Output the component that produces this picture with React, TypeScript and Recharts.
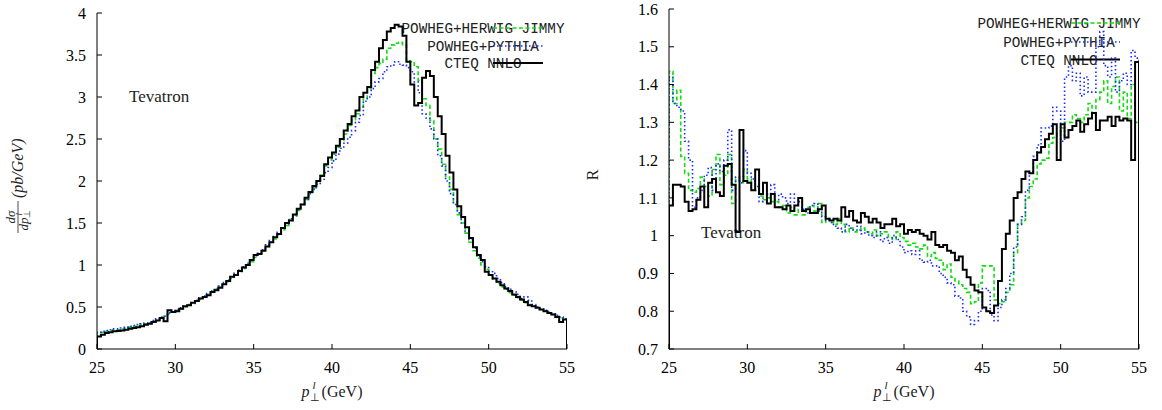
import { Customized, Line, LineChart, XAxis, YAxis } from "recharts";

// Histograms: 0.25 GeV bins from 25 to 55 GeV (120 bins).
const BIN_START = 25;
const BIN_WIDTH = 0.25;

const PT_TICKS = [25, 30, 35, 40, 45, 50, 55];
const XSEC_TICKS = [0, 0.5, 1, 1.5, 2, 2.5, 3, 3.5, 4];
const RATIO_TICKS = [0.7, 0.8, 0.9, 1, 1.1, 1.2, 1.3, 1.4, 1.5, 1.6];

const LEGEND_LABELS = ["POWHEG+HERWIG JIMMY", "POWHEG+PYTHIA", "CTEQ NNLO"];

// dsigma/dpT (pb/GeV)
const xsecCteq = [
  0.15, 0.17, 0.19, 0.2, 0.21, 0.215, 0.22, 0.23, 0.24, 0.25,
  0.26, 0.27, 0.29, 0.3, 0.32, 0.34, 0.37, 0.33, 0.46, 0.44,
  0.45, 0.48, 0.51, 0.52, 0.55, 0.57, 0.6, 0.62, 0.64, 0.68,
  0.7, 0.73, 0.77, 0.81, 0.86, 0.88, 0.93, 0.97, 1.0, 1.06,
  1.12, 1.13, 1.17, 1.22, 1.27, 1.33, 1.37, 1.44, 1.5, 1.53,
  1.6, 1.67, 1.72, 1.8, 1.87, 1.94, 2.0, 2.06, 2.2, 2.28,
  2.34, 2.42, 2.5, 2.6, 2.68, 2.77, 2.84, 3.0, 3.05, 3.12,
  3.32, 3.42, 3.58, 3.68, 3.78, 3.82, 3.86, 3.84, 3.73, 3.42,
  3.15, 2.9, 2.93, 3.23, 3.31, 3.25, 3.0, 2.77, 2.56, 2.3,
  2.1, 1.9, 1.7, 1.57, 1.45, 1.32, 1.21, 1.12, 1.06, 0.92,
  0.88, 0.84, 0.8, 0.76, 0.72, 0.69, 0.65, 0.62, 0.59, 0.56,
  0.52, 0.51, 0.49, 0.47, 0.45, 0.43, 0.41, 0.38, 0.32, 0.35,
];
const xsecHerwig = [
  0.19, 0.2, 0.21, 0.22, 0.23, 0.23, 0.24, 0.25, 0.26, 0.27,
  0.28, 0.29, 0.3, 0.31, 0.33, 0.35, 0.37, 0.39, 0.42, 0.44,
  0.46, 0.48, 0.5, 0.52, 0.54, 0.57, 0.59, 0.62, 0.65, 0.68,
  0.71, 0.74, 0.77, 0.8, 0.84, 0.88, 0.92, 0.96, 1.0, 1.04,
  1.09, 1.13, 1.17, 1.22, 1.27, 1.31, 1.36, 1.42, 1.47, 1.54,
  1.58, 1.65, 1.72, 1.78, 1.86, 1.92, 1.98, 2.07, 2.18, 2.25,
  2.32, 2.4, 2.48, 2.56, 2.66, 2.73, 2.8, 2.88, 2.98, 3.1,
  3.28, 3.35, 3.4, 3.45, 3.58, 3.62, 3.64, 3.65, 3.62, 3.43,
  3.42, 3.36, 3.2, 2.98, 2.9, 2.72, 2.5, 2.38, 2.2, 2.05,
  1.9, 1.75, 1.6, 1.5, 1.38, 1.27, 1.17, 1.08, 1.0, 0.95,
  0.88, 0.83, 0.78, 0.74, 0.71, 0.67, 0.64, 0.61, 0.58, 0.55,
  0.53, 0.51, 0.49, 0.47, 0.45, 0.43, 0.41, 0.39, 0.37, 0.35,
];
const xsecPythia = [
  0.2, 0.21, 0.22, 0.23, 0.24, 0.24, 0.25, 0.26, 0.27, 0.28,
  0.29, 0.3, 0.31, 0.32, 0.34, 0.36, 0.38, 0.39, 0.43, 0.46,
  0.47, 0.49, 0.51, 0.53, 0.55, 0.58, 0.61, 0.63, 0.66, 0.69,
  0.72, 0.75, 0.79, 0.82, 0.86, 0.9, 0.94, 0.98, 1.02, 1.06,
  1.11, 1.14, 1.18, 1.24, 1.29, 1.34, 1.39, 1.44, 1.49, 1.55,
  1.6, 1.66, 1.72, 1.78, 1.85, 1.9, 1.96, 2.02, 2.1, 2.16,
  2.24, 2.32, 2.39, 2.45, 2.52, 2.6, 2.7, 2.78, 2.95, 3.0,
  3.1, 3.18, 3.22, 3.3, 3.36, 3.38, 3.42, 3.39, 3.38, 3.35,
  3.3, 3.18, 3.05, 2.8, 2.75, 2.62, 2.5, 2.3, 2.18, 2.0,
  1.85, 1.72, 1.62, 1.5, 1.4, 1.3, 1.2, 1.1, 1.04, 0.98,
  0.92, 0.9, 0.84, 0.79, 0.74, 0.71, 0.68, 0.65, 0.6, 0.62,
  0.58, 0.53, 0.5, 0.48, 0.46, 0.44, 0.42, 0.4, 0.38, 0.36,
];

// ratio R
const ratioCteq = [
  1.08, 1.135, 1.135, 1.13, 1.09, 1.065, 1.07, 1.095, 1.13, 1.075,
  1.14, 1.15, 1.115, 1.105, 1.185, 1.19, 1.135, 1.01, 1.28, 1.145,
  1.14, 1.12, 1.175, 1.11, 1.14, 1.085, 1.11, 1.075, 1.075, 1.07,
  1.08, 1.065, 1.08, 1.1, 1.065, 1.07, 1.06, 1.06, 1.07, 1.08,
  1.045, 1.04, 1.045, 1.04, 1.075, 1.05, 1.065, 1.04, 1.035, 1.06,
  1.05, 1.035, 1.045, 1.035, 1.02, 1.03, 1.03, 1.045, 1.025, 1.03,
  1.005, 1.015, 1.01, 1.015, 1.005, 1.0, 0.99, 1.01, 0.975, 0.97,
  0.975, 0.96, 0.955, 0.935, 0.945, 0.91, 0.89, 0.87, 0.855, 0.85,
  0.81, 0.8, 0.795, 0.815, 0.88, 0.965, 1.005, 1.04, 1.1, 1.115,
  1.15, 1.17, 1.165, 1.2, 1.22, 1.235, 1.255, 1.27, 1.295, 1.2,
  1.295, 1.26, 1.28, 1.29, 1.305, 1.275, 1.295, 1.31, 1.325, 1.28,
  1.305, 1.305, 1.315, 1.29, 1.315, 1.305, 1.31, 1.305, 1.2, 1.46,
];
const ratioHerwig = [
  1.435, 1.35, 1.385, 1.21, 1.165, 1.12, 1.115, 1.125, 1.155, 1.13,
  1.105, 1.175, 1.215, 1.135, 1.16, 1.215, 1.085, 1.15, 1.14, 1.175,
  1.15, 1.125, 1.12, 1.105, 1.095, 1.1, 1.09, 1.09, 1.075, 1.08,
  1.06, 1.075, 1.055, 1.07, 1.055, 1.075, 1.08, 1.065, 1.085, 1.035,
  1.045, 1.035, 1.03, 1.045, 1.03, 1.01, 1.02, 1.01, 1.015, 1.02,
  1.01, 1.005, 1.015, 1.0, 1.005, 1.01, 0.995, 0.99, 1.01, 0.995,
  0.985, 0.975, 0.98, 0.97, 0.965, 0.975, 0.945, 0.955, 0.94, 0.935,
  0.91, 0.925, 0.89, 0.88, 0.87, 0.86, 0.85, 0.82, 0.825, 0.875,
  0.92, 0.92, 0.92, 0.83, 0.82, 0.825, 0.85, 0.87, 0.955, 1.03,
  1.04, 1.1, 1.13, 1.15, 1.19, 1.2, 1.205, 1.245, 1.26, 1.27,
  1.285, 1.3, 1.3, 1.32, 1.31, 1.3, 1.32, 1.35, 1.32, 1.36,
  1.38, 1.41, 1.35, 1.395, 1.42, 1.33, 1.38, 1.31, 1.4, 1.3,
];
const ratioPythia = [
  1.42, 1.35, 1.34, 1.33, 1.25, 1.2, 1.075, 1.1, 1.12, 1.16,
  1.18, 1.12, 1.19, 1.17, 1.2, 1.28, 1.12, 1.155, 1.14, 1.225,
  1.165, 1.15, 1.13, 1.09, 1.12, 1.11, 1.135, 1.095, 1.11, 1.1,
  1.085, 1.11, 1.08, 1.09, 1.07, 1.06, 1.08, 1.085, 1.065, 1.05,
  1.04, 1.035, 1.025, 1.02, 1.01, 1.03, 1.02, 1.015, 1.025, 1.005,
  1.01, 1.0, 0.995, 1.01, 0.985, 0.995, 0.98, 1.0, 0.99, 0.97,
  0.955, 0.96, 0.95, 0.96, 0.935, 0.93, 0.935, 0.92, 0.92, 0.9,
  0.89, 0.875, 0.87, 0.84, 0.835, 0.8, 0.785, 0.765, 0.775, 0.8,
  0.86, 0.855, 0.79, 0.775, 0.81, 0.83, 0.86, 0.9, 0.97, 1.03,
  1.05, 1.12, 1.17, 1.21, 1.24, 1.285, 1.285, 1.29, 1.34, 1.33,
  1.25, 1.42, 1.45, 1.41, 1.43, 1.37, 1.42, 1.38, 1.38, 1.5,
  1.54, 1.45, 1.42, 1.47, 1.38, 1.41, 1.43, 1.4, 1.49, 1.47,
];

const CTEQ_COLOR = "#000000";
const HERWIG_COLOR = "#11dd11";
const PYTHIA_COLOR = "#1a2cff";

const SERIF = "'Liberation Serif', 'Times New Roman', serif";
const MONO = "'Liberation Mono', 'DejaVu Sans Mono', monospace";

// histogram outline: rise from zero at the first edge, step per bin, drop back at the last edge
function buildRows(cteq: number[], herwig: number[], pythia: number[]) {
  const rows = [{ x: BIN_START, cteq: 0, herwig: 0, pythia: 0 }];
  cteq.forEach((v, i) => {
    rows.push({ x: BIN_START + i * BIN_WIDTH, cteq: v, herwig: herwig[i], pythia: pythia[i] });
  });
  const last = cteq.length - 1;
  const end = BIN_START + cteq.length * BIN_WIDTH;
  rows.push({ x: end, cteq: cteq[last], herwig: herwig[last], pythia: pythia[last] });
  rows.push({ x: end, cteq: 0, herwig: 0, pythia: 0 });
  return rows;
}

const xsecRows = buildRows(xsecCteq, xsecHerwig, xsecPythia);
const ratioRows = buildRows(ratioCteq, ratioHerwig, ratioPythia);

const tickStyle = { fontSize: 16, fill: "#000", fontFamily: SERIF };
const blank = () => "";

type Overlay = {
  legendX: number;
  legendBaselines: number[];
  sampleX: [number, number];
  tevatron: [number, number];
  xLabelX: number;
  yLabel: React.ReactNode;
};

function Legend({ o }: { o: Overlay }) {
  const colors = [HERWIG_COLOR, PYTHIA_COLOR, CTEQ_COLOR];
  const dashes = ["4 2.5", "1.5 2.5", undefined];
  const widths = [1.6, 1.6, 2];
  return (
    <g>
      {LEGEND_LABELS.map((label, i) => (
        <g key={label}>
          <text x={o.legendX} y={o.legendBaselines[i]} textAnchor="middle" fontFamily={MONO} fontSize={14.3} fill="#222">
            {label}
          </text>
          <line
            x1={o.sampleX[0]}
            x2={o.sampleX[1]}
            y1={o.legendBaselines[i] - 5}
            y2={o.legendBaselines[i] - 5}
            stroke={colors[i]}
            strokeWidth={widths[i]}
            strokeDasharray={dashes[i]}
          />
        </g>
      ))}
    </g>
  );
}

function Decorations({ o }: { o: Overlay }) {
  return (
    <g>
      <Legend o={o} />
      <text x={o.tevatron[0]} y={o.tevatron[1]} fontFamily={SERIF} fontSize={17} fill="#222">
        Tevatron
      </text>
      <text x={o.xLabelX} y={397} textAnchor="middle" fontFamily={SERIF} fontSize={16} fill="#222">
        <tspan fontStyle="italic">p</tspan>
        <tspan fontSize={11} dy={4}>⊥</tspan>
        <tspan fontSize={11} fontStyle="italic" dx={-7} dy={-12}>l</tspan>
        <tspan dx={6} dy={8}>(GeV)</tspan>
      </text>
      {o.yLabel}
    </g>
  );
}

const xsecYLabel = (
  <g transform="translate(18,183) rotate(-90)" fontFamily={SERIF} fill="#222">
    <text x={-34} y={-3} textAnchor="middle" fontSize={13} fontStyle="italic">dσ</text>
    <line x1={-50} x2={-18} y1={0} y2={0} stroke="#222" strokeWidth={0.8} />
    <text x={-37} y={10} textAnchor="middle" fontSize={13} fontStyle="italic">
      dp
      <tspan fontSize={9} fontStyle="normal" dy={2}>⊥</tspan>
      <tspan fontSize={9} dx={-6} dy={-8}>l</tspan>
    </text>
    <text x={-15} y={5} fontSize={16} fontStyle="italic">(pb/GeV)</text>
  </g>
);

const ratioYLabel = (
  <text transform="translate(17,175) rotate(-90)" textAnchor="middle" fontFamily={SERIF} fontSize={16} fill="#222">
    R
  </text>
);

const frame = { stroke: "#000" };

function Panel({
  rows,
  yDomain,
  yTicks,
  margin,
  overlay,
}: {
  rows: ReturnType<typeof buildRows>;
  yDomain: [number, number];
  yTicks: number[];
  margin: { top: number; right: number; bottom: number; left: number };
  overlay: Overlay;
}) {
  return (
    <LineChart width={581} height={410} data={rows} margin={margin}>
      {/* bottom / left: negative tick size turns the tick marks inward */}
      <XAxis
        dataKey="x"
        type="number"
        domain={[25, 55]}
        ticks={PT_TICKS}
        interval={0}
        height={40}
        tick={tickStyle}
        tickSize={-5}
        tickMargin={18}
        axisLine={frame}
        tickLine={frame}
        allowDataOverflow
      />
      <YAxis
        type="number"
        domain={yDomain}
        ticks={yTicks}
        interval={0}
        width={60}
        tick={tickStyle}
        tickSize={-5}
        tickMargin={16}
        axisLine={frame}
        tickLine={frame}
        allowDataOverflow
      />
      {/* top / right mirror axes close the frame, ticks pointing inward */}
      <XAxis
        xAxisId="top"
        orientation="top"
        mirror
        dataKey="x"
        type="number"
        domain={[25, 55]}
        ticks={PT_TICKS}
        interval={0}
        height={0}
        tickFormatter={blank}
        tickSize={5}
        axisLine={frame}
        tickLine={frame}
      />
      <YAxis
        yAxisId="right"
        orientation="right"
        mirror
        type="number"
        domain={yDomain}
        ticks={yTicks}
        interval={0}
        width={0}
        tickFormatter={blank}
        tickSize={5}
        axisLine={frame}
        tickLine={frame}
      />
      <Line
        type="stepAfter"
        dataKey="herwig"
        stroke={HERWIG_COLOR}
        strokeWidth={1.6}
        strokeDasharray="4 2.5"
        dot={false}
        isAnimationActive={false}
      />
      <Line
        type="stepAfter"
        dataKey="pythia"
        stroke={PYTHIA_COLOR}
        strokeWidth={1.6}
        strokeDasharray="1.5 2.5"
        dot={false}
        isAnimationActive={false}
      />
      <Line
        type="stepAfter"
        dataKey="cteq"
        stroke={CTEQ_COLOR}
        strokeWidth={2}
        dot={false}
        isAnimationActive={false}
      />
      <Customized component={() => <Decorations o={overlay} />} />
    </LineChart>
  );
}

export default function App() {
  return (
    <div style={{ position: "absolute", left: 0, top: 0, width: 1162, height: 410, background: "#fff", display: "flex" }}>
      <Panel
        rows={xsecRows}
        yDomain={[0, 4]}
        yTicks={XSEC_TICKS}
        margin={{ top: 13, right: 14, bottom: 21, left: 37 }}
        overlay={{
          legendX: 483,
          legendBaselines: [33, 51, 68],
          sampleX: [493, 543],
          tevatron: [129, 101.5],
          xLabelX: 332,
          yLabel: xsecYLabel,
        }}
      />
      <Panel
        rows={ratioRows}
        yDomain={[0.7, 1.6]}
        yTicks={RATIO_TICKS}
        margin={{ top: 9, right: 23, bottom: 21, left: 28 }}
        overlay={{
          legendX: 478,
          legendBaselines: [28, 47, 64.5],
          sampleX: [490, 539],
          tevatron: [120, 238],
          xLabelX: 323,
          yLabel: ratioYLabel,
        }}
      />
    </div>
  );
}
